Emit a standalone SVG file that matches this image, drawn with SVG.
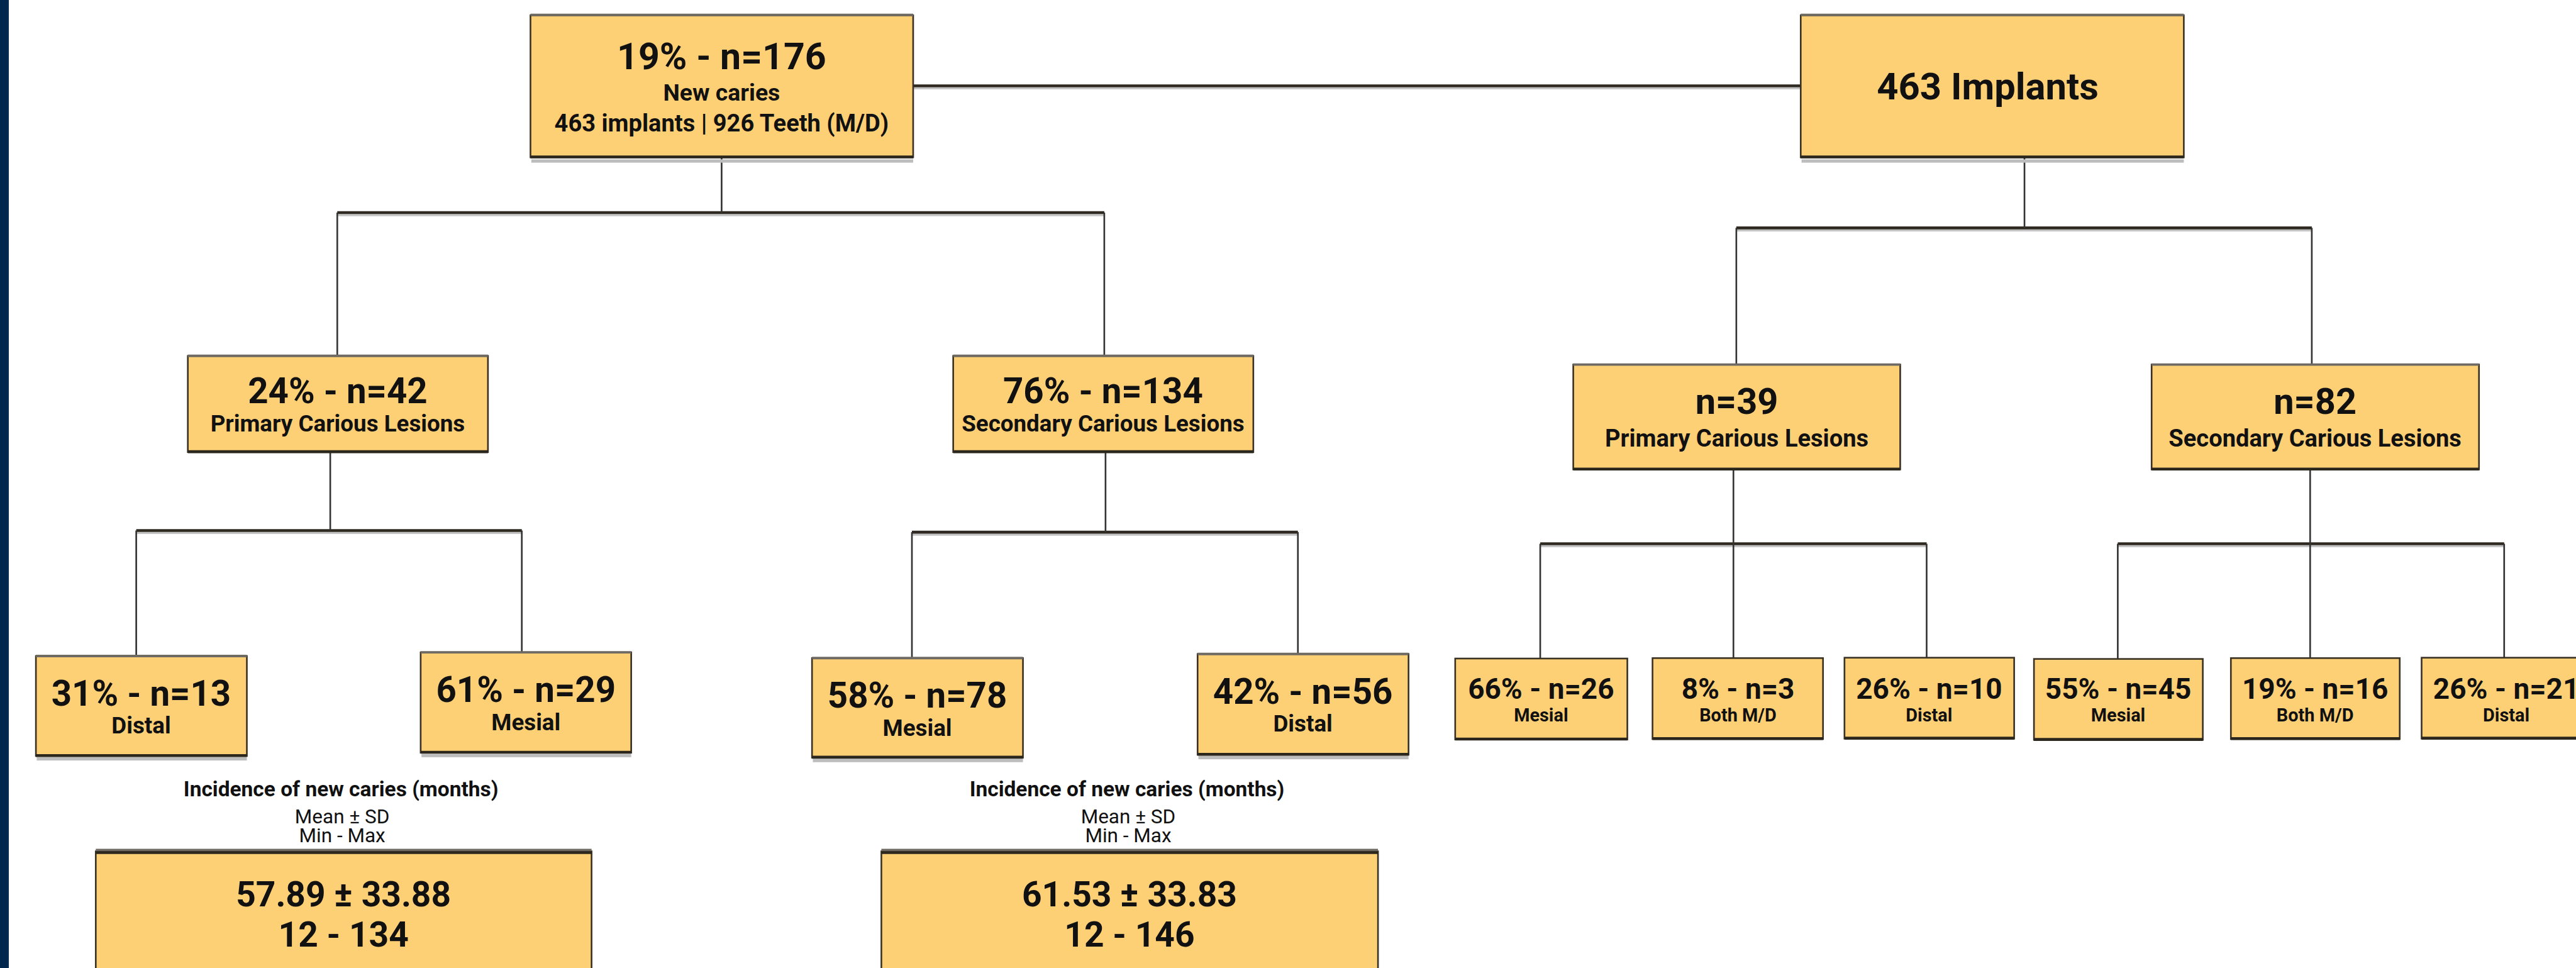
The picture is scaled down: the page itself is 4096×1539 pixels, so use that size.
<svg xmlns="http://www.w3.org/2000/svg" width="4096" height="1539" viewBox="0 0 4096 1539">
<defs>
<style>
.box{fill:#FED076;stroke:#3a3224;stroke-width:4}
.shadow{fill:#bdbdbd}
.band{stroke:#2c271d;stroke-width:7}
.topband{stroke:#6f6b64;stroke-width:6}
.c{fill:none;stroke:#333;stroke-width:4}
.ch{fill:none;stroke:#2e2a22;stroke-width:7}
.chs{fill:none;stroke:#c4c4c4;stroke-width:5}
text{font-family:Roboto,"Liberation Sans",sans-serif;fill:#111;text-anchor:middle;font-weight:700}
.reg{font-weight:400}
</style>
</defs>
<rect x="0" y="0" width="4096" height="1539" fill="#ffffff"/>
<rect x="0" y="0" width="14" height="1539" fill="#00284f"/>
<g transform="scale(0.65641)">
<g id="connectors">
<path class="chs" d="M2212 214 H4362 M817 521 H2675 M330 1291 H1264 M2209 1295 H3144 M4206 558 H5600 M3731 1323 H4667 M5130 1323 H6066"/>
<path class="ch" d="M2212 208 H4362 M817 515 H2675 M330 1285 H1264 M2209 1289 H3144 M4206 552 H5600 M3731 1317 H4667 M5130 1317 H6066"/>
<path class="c" d="M1748 381 V515 M817 515 V862 M2675 515 V862 M800 1095 V1285 M330 1285 V1589 M1264 1285 V1580 M2678 1095 V1289 M2209 1289 V1594 M3144 1289 V1584 M4904 381 V552 M4206 552 V883 M5600 552 V883 M4199 1137 V1317 M3731 1317 V1595 M4199 1317 V1594 M4667 1317 V1593 M5596 1137 V1317 M5130 1317 V1596 M5596 1317 V1594 M6066 1317 V1593"/>
</g>
<g id="n_root">
<rect class="shadow" x="1287" y="386" width="925" height="8"/>
<rect class="box" x="1285" y="37" width="927" height="344"/>
<path class="topband" d="M1285 36 H2212"/><path class="band" d="M1285 380 H2212"/>
<text x="1748" y="168" font-size="90">19% - n=176</text>
<text x="1748" y="244" font-size="57">New caries</text>
<text x="1748" y="318" font-size="58">463 implants | 926 Teeth (M/D)</text>
</g>
<g id="n_implants">
<rect class="shadow" x="4364" y="386" width="926" height="8"/>
<rect class="box" x="4362" y="37" width="928" height="344"/>
<path class="topband" d="M4362 36 H5290"/><path class="band" d="M4362 380 H5290"/>
<text x="4815" y="241" font-size="91">463 Implants</text>
</g>
<g id="n_lprimary">
<rect class="box" x="455" y="862" width="727" height="233"/>
<path class="topband" d="M455 862 H1182"/><path class="band" d="M455 1094 H1182"/>
<text x="818" y="977" font-size="86">24% - n=42</text>
<text x="818" y="1045" font-size="56">Primary Carious Lesions</text>
</g>
<g id="n_lsecondary">
<rect class="box" x="2309" y="862" width="727" height="233"/>
<path class="topband" d="M2309 862 H3036"/><path class="band" d="M2309 1094 H3036"/>
<text x="2672" y="977" font-size="86">76% - n=134</text>
<text x="2672" y="1045" font-size="56">Secondary Carious Lesions</text>
</g>
<g id="n_rprimary">
<rect class="box" x="3811" y="883" width="792" height="254"/>
<path class="topband" d="M3811 883 H4603"/><path class="band" d="M3811 1136 H4603"/>
<text x="4207" y="1003" font-size="88">n=39</text>
<text x="4207" y="1081" font-size="58">Primary Carious Lesions</text>
</g>
<g id="n_rsecondary">
<rect class="box" x="5212" y="883" width="793" height="254"/>
<path class="topband" d="M5212 883 H6005"/><path class="band" d="M5212 1136 H6005"/>
<text x="5608" y="1003" font-size="88">n=82</text>
<text x="5608" y="1081" font-size="58">Secondary Carious Lesions</text>
</g>
<g id="n_l_distal">
<rect class="shadow" x="89" y="1834" width="509" height="8"/>
<rect class="box" x="87" y="1589" width="511" height="242"/>
<path class="topband" d="M87 1589 H598"/><path class="band" d="M87 1830 H598"/>
<text x="342" y="1709" font-size="86">31% - n=13</text>
<text x="342" y="1777" font-size="56">Distal</text>
</g>
<g id="n_l_mesial">
<rect class="shadow" x="1021" y="1826" width="508" height="8"/>
<rect class="box" x="1019" y="1580" width="510" height="243"/>
<path class="topband" d="M1019 1580 H1529"/><path class="band" d="M1019 1822 H1529"/>
<text x="1274" y="1700" font-size="86">61% - n=29</text>
<text x="1274" y="1768" font-size="56">Mesial</text>
</g>
<g id="n_s_mesial">
<rect class="shadow" x="1969" y="1838" width="509" height="8"/>
<rect class="box" x="1967" y="1594" width="511" height="241"/>
<path class="topband" d="M1967 1594 H2478"/><path class="band" d="M1967 1834 H2478"/>
<text x="2222" y="1714" font-size="86">58% - n=78</text>
<text x="2222" y="1782" font-size="56">Mesial</text>
</g>
<g id="n_s_distal">
<rect class="shadow" x="2903" y="1831" width="509" height="8"/>
<rect class="box" x="2901" y="1584" width="511" height="244"/>
<path class="topband" d="M2901 1584 H3412"/><path class="band" d="M2901 1827 H3412"/>
<text x="3156" y="1704" font-size="86">42% - n=56</text>
<text x="3156" y="1772" font-size="56">Distal</text>
</g>
<g id="n_rp_mesial">
<rect class="box" x="3525" y="1595" width="417" height="196"/>
<path class="band" d="M3525 1790 H3942"/>
<text x="3733" y="1692" font-size="70">66% - n=26</text>
<text x="3733" y="1747" font-size="44">Mesial</text>
</g>
<g id="n_rp_both">
<rect class="box" x="4003" y="1594" width="413" height="196"/>
<path class="band" d="M4003 1789 H4416"/>
<text x="4210" y="1692" font-size="70">8% - n=3</text>
<text x="4210" y="1747" font-size="44">Both M/D</text>
</g>
<g id="n_rp_distal">
<rect class="box" x="4468" y="1593" width="411" height="196"/>
<path class="band" d="M4468 1788 H4879"/>
<text x="4673" y="1692" font-size="70">26% - n=10</text>
<text x="4673" y="1747" font-size="44">Distal</text>
</g>
<g id="n_rs_mesial">
<rect class="box" x="4927" y="1596" width="409" height="196"/>
<path class="band" d="M4927 1791 H5336"/>
<text x="5131" y="1692" font-size="70">55% - n=45</text>
<text x="5131" y="1747" font-size="44">Mesial</text>
</g>
<g id="n_rs_both">
<rect class="box" x="5404" y="1594" width="409" height="196"/>
<path class="band" d="M5404 1789 H5813"/>
<text x="5608" y="1692" font-size="70">19% - n=16</text>
<text x="5608" y="1747" font-size="44">Both M/D</text>
</g>
<g id="n_rs_distal">
<rect class="box" x="5866" y="1593" width="410" height="196"/>
<path class="band" d="M5866 1788 H6276"/>
<text x="6071" y="1692" font-size="70">26% - n=21</text>
<text x="6071" y="1747" font-size="44">Distal</text>
</g>
<g id="label_left">
<text x="826" y="1928" font-size="51">Incidence of new caries (months)</text>
<text class="reg" x="829" y="1994" font-size="48">Mean ± SD</text>
<text class="reg" x="829" y="2040" font-size="48">Min - Max</text>
</g>
<g id="label_right">
<text x="2730" y="1928" font-size="51">Incidence of new caries (months)</text>
<text class="reg" x="2733" y="1994" font-size="48">Mean ± SD</text>
<text class="reg" x="2733" y="2040" font-size="48">Min - Max</text>
</g>
<g id="n_stats_left">
<rect class="box" x="232" y="2062" width="1201" height="320"/>
<path class="topband" d="M232 2059 H1433"/><path class="band" d="M232 2065 H1433"/>
<text x="832" y="2195" font-size="84">57.89 ± 33.88</text>
<text x="832" y="2293" font-size="84">12 - 134</text>
</g>
<g id="n_stats_right">
<rect class="box" x="2135" y="2062" width="1203" height="320"/>
<path class="topband" d="M2135 2059 H3338"/><path class="band" d="M2135 2065 H3338"/>
<text x="2736" y="2195" font-size="84">61.53 ± 33.83</text>
<text x="2736" y="2293" font-size="84">12 - 146</text>
</g>
</g>
</svg>
